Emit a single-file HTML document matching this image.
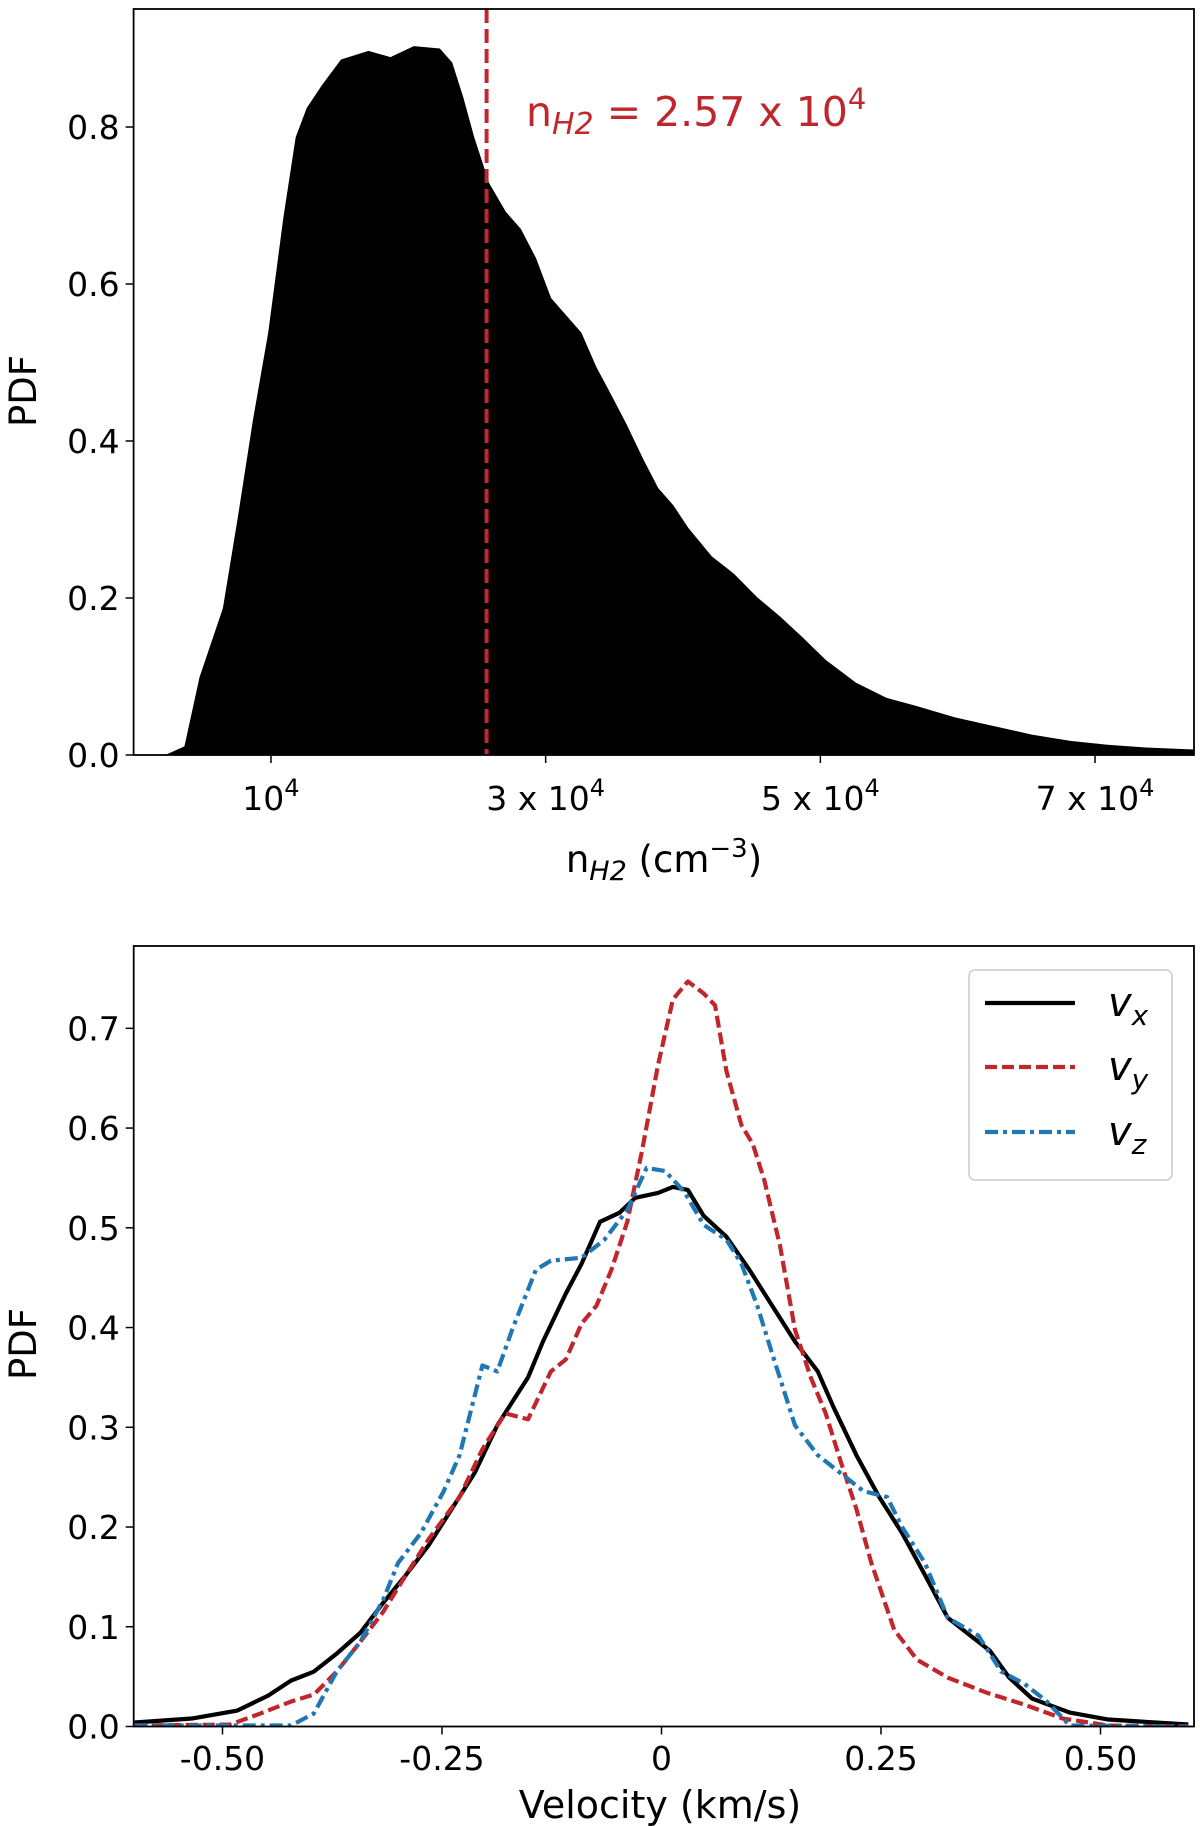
<!DOCTYPE html>
<html><head><meta charset="utf-8"><style>
body{margin:0;background:#fff}
svg{display:block;font-family:"DejaVu Sans","Liberation Sans",sans-serif}
</style></head><body>
<svg id="fig" width="1200" height="1826" viewBox="0 0 1200 1826" xmlns="http://www.w3.org/2000/svg">
<g id="top"></g>
<g id="bot"></g>
</svg>
<script>
// top panel data (n in units of 1e4 cm^-3)
const densX=[0,0.23,0.37,0.48,0.65,0.76,0.87,0.98,1.09,1.18,1.26,1.37,1.51,1.71,1.87,2.04,2.23,2.32,2.40,2.48,2.59,2.71,2.82,2.93,3.04,3.15,3.26,3.37,3.48,3.59,3.71,3.82,3.93,4.04,4.21,4.37,4.54,4.71,4.87,5.04,5.26,5.48,5.71,5.98,6.26,6.54,6.82,7.09,7.37,7.72];
const densY=[0,0,0.011,0.099,0.187,0.304,0.428,0.538,0.684,0.787,0.824,0.853,0.886,0.897,0.889,0.903,0.900,0.882,0.838,0.787,0.728,0.692,0.670,0.633,0.582,0.560,0.538,0.494,0.458,0.421,0.377,0.340,0.318,0.289,0.253,0.231,0.201,0.176,0.150,0.121,0.092,0.073,0.062,0.048,0.037,0.026,0.018,0.013,0.0095,0.007];
const densTicks=[1,3,5,7];
const densTickLabels=["10","3 x 10","5 x 10","7 x 10"];
const densYTicks=[0,0.2,0.4,0.6,0.8];
const meanDens=2.57;
// bottom panel data
const vxX=[-0.60,-0.535,-0.483,-0.448,-0.422,-0.396,-0.370,-0.343,-0.317,-0.291,-0.265,-0.239,-0.213,-0.187,-0.152,-0.135,-0.109,-0.091,-0.070,-0.048,-0.030,-0.004,0.013,0.030,0.048,0.074,0.100,0.126,0.152,0.178,0.196,0.222,0.248,0.274,0.300,0.326,0.352,0.374,0.396,0.422,0.465,0.509,0.60];
const vxY=[0.004,0.008,0.016,0.031,0.046,0.055,0.073,0.094,0.124,0.152,0.182,0.218,0.254,0.302,0.350,0.386,0.434,0.464,0.506,0.515,0.530,0.535,0.541,0.538,0.512,0.491,0.458,0.422,0.386,0.356,0.320,0.272,0.230,0.194,0.152,0.109,0.091,0.076,0.049,0.028,0.014,0.007,0.002];
const vyX=[-0.60,-0.491,-0.457,-0.422,-0.396,-0.370,-0.343,-0.317,-0.291,-0.265,-0.230,-0.204,-0.178,-0.152,-0.126,-0.109,-0.091,-0.074,-0.057,-0.039,-0.022,-0.004,0.013,0.030,0.048,0.061,0.074,0.091,0.104,0.117,0.135,0.152,0.170,0.187,0.204,0.222,0.239,0.265,0.291,0.326,0.370,0.413,0.457,0.509,0.60];
const vyY=[0.001,0.002,0.013,0.025,0.032,0.055,0.085,0.115,0.152,0.188,0.230,0.278,0.314,0.308,0.356,0.368,0.404,0.422,0.458,0.506,0.578,0.663,0.729,0.747,0.735,0.723,0.657,0.603,0.584,0.548,0.482,0.398,0.350,0.314,0.266,0.218,0.164,0.097,0.067,0.049,0.034,0.022,0.008,0.001,0.0];
const vzX=[-0.60,-0.422,-0.396,-0.370,-0.343,-0.317,-0.300,-0.274,-0.248,-0.230,-0.204,-0.187,-0.170,-0.143,-0.126,-0.091,-0.065,-0.039,-0.017,0.004,0.026,0.048,0.074,0.091,0.109,0.126,0.152,0.178,0.204,0.230,0.257,0.274,0.300,0.326,0.361,0.387,0.413,0.439,0.465,0.60];
const vzY=[0.001,0.001,0.013,0.055,0.085,0.127,0.164,0.194,0.236,0.272,0.362,0.356,0.398,0.458,0.467,0.470,0.488,0.518,0.560,0.557,0.536,0.503,0.488,0.464,0.422,0.374,0.302,0.272,0.254,0.236,0.230,0.200,0.164,0.109,0.091,0.055,0.043,0.025,0.001,0];
const velTicks=[-0.5,-0.25,0,0.25,0.5];
const velTickLabels=["-0.50","-0.25","0","0.25","0.50"];
const velYTicks=[0,0.1,0.2,0.3,0.4,0.5,0.6,0.7];
const velYLabels=["0.0","0.1","0.2","0.3","0.4","0.5","0.6","0.7"];

const NS="http://www.w3.org/2000/svg";
function mk(parent,tag,attrs,text){const e=document.createElementNS(NS,tag);for(const k in attrs)e.setAttribute(k,attrs[k]);if(text!==undefined)e.textContent=text;parent.appendChild(e);return e;}

// ---- top panel
const T=document.getElementById('top');
const tL=133.6,tR=1194,tT=9,tB=755;
const tx=v=>tL+v*137.35;
const ty=v=>tB-v*785;
let d='M'+tx(densX[0])+','+ty(0);
densX.forEach((x,i)=>{d+=' L'+tx(x)+','+ty(densY[i]);});
d+=' L'+tx(densX[densX.length-1])+','+ty(0)+' Z';
const area=mk(T,'path',{d:d,fill:'#000'});


const ml=mk(T,'line',{x1:tx(meanDens),x2:tx(meanDens),y1:tT,y2:tB,stroke:'#c0272d','stroke-width':4,'stroke-dasharray':'14,6'});


const ann=mk(T,'text',{x:526,y:126,fill:'#c0272d','font-size':41});


ann.innerHTML='n<tspan font-style="italic" font-size="30" dy="8">H2</tspan><tspan dy="-8"> = 2.57 x 10</tspan><tspan font-size="29" dy="-17">4</tspan>';
const tf=mk(T,'rect',{x:tL,y:tT,width:tR-tL,height:tB-tT,fill:'none',stroke:'#000','stroke-width':1.8});


densYTicks.forEach(v=>{
  mk(T,'line',{x1:tL-8,x2:tL,y1:ty(v),y2:ty(v),stroke:'#000','stroke-width':1.5});
  const t=mk(T,'text',{x:tL-14,y:ty(v)+12,'text-anchor':'end','font-size':33},v.toFixed(1));
  
  
});
densTicks.forEach((v,i)=>{
  mk(T,'line',{x1:tx(v),x2:tx(v),y1:tB,y2:tB+8,stroke:'#000','stroke-width':1.5});
  const t=mk(T,'text',{x:tx(v),y:810,'text-anchor':'middle','font-size':33});
  t.innerHTML=densTickLabels[i]+'<tspan font-size="24" dy="-14">4</tspan>';
  
  
});
const txl=mk(T,'text',{x:664,y:872,'text-anchor':'middle','font-size':37});
txl.innerHTML='n<tspan font-style="italic" font-size="27" dy="8">H2</tspan><tspan dy="-8"> (cm</tspan><tspan font-size="26" dy="-15">−3</tspan><tspan dy="15">)</tspan>';


const tyl=mk(T,'text',{x:0,y:0,'text-anchor':'middle','font-size':37,transform:'translate(36,391) rotate(-90)'},'PDF');



// ---- bottom panel
const B=document.getElementById('bot');
const bL=133.7,bR=1194,bT=946,bB=1726.5;
const bx=v=>661.5+v*878;
const by=v=>bB-v*997.4;
const series=[[vxX,vxY,'#000','none','vx-line'],[vyX,vyY,'#c0272d','12,5','vy-line'],[vzX,vzY,'#1f77b4','13,5,4,5','vz-line']];
const clip=mk(B,'clipPath',{id:'bc'});mk(clip,'rect',{x:bL,y:bT,width:bR-bL,height:bB-bT});
series.forEach(s=>{
  const pts=s[0].map((x,i)=>bx(x)+','+by(s[1][i])).join(' ');
  const p=mk(B,'polyline',{points:pts,fill:'none',stroke:s[2],'stroke-width':4.2,'stroke-dasharray':s[3],'clip-path':'url(#bc)','stroke-linejoin':'round'});
  
  
});
const bf=mk(B,'rect',{x:bL,y:bT,width:bR-bL,height:bB-bT,fill:'none',stroke:'#000','stroke-width':1.8});


velYTicks.forEach((v,i)=>{
  mk(B,'line',{x1:bL-8,x2:bL,y1:by(v),y2:by(v),stroke:'#000','stroke-width':1.5});
  const t=mk(B,'text',{x:bL-14,y:by(v)+12,'text-anchor':'end','font-size':33},velYLabels[i]);
  
  
});
velTicks.forEach((v,i)=>{
  mk(B,'line',{x1:bx(v),x2:bx(v),y1:bB,y2:bB+8,stroke:'#000','stroke-width':1.5});
  const t=mk(B,'text',{x:bx(v),y:1770,'text-anchor':'middle','font-size':33},velTickLabels[i]);
  
  
});
const bxl=mk(B,'text',{x:660,y:1818,'text-anchor':'middle','font-size':38},'Velocity (km/s)');


const byl=mk(B,'text',{x:0,y:0,'text-anchor':'middle','font-size':37,transform:'translate(36,1344) rotate(-90)'},'PDF');


// legend
const lg=mk(B,'g',{});


mk(lg,'rect',{x:969,y:970,width:203,height:210,rx:6,fill:'#fff',stroke:'#ccc','stroke-width':1.5});
const labs=[['x',1003],['y',1067],['z',1132]];
series.forEach((s,i)=>{
  const ln=mk(lg,'line',{x1:985,x2:1075,y1:labs[i][1],y2:labs[i][1],stroke:s[2],'stroke-width':4.2,'stroke-dasharray':s[3]});
  
  
  const t=mk(lg,'text',{x:1108,y:labs[i][1]+13,'font-size':40,'font-style':'italic'});
  t.innerHTML='v<tspan font-size="28" dy="9">'+labs[i][0]+'</tspan>';
  
  
});
</script>
</body></html>
